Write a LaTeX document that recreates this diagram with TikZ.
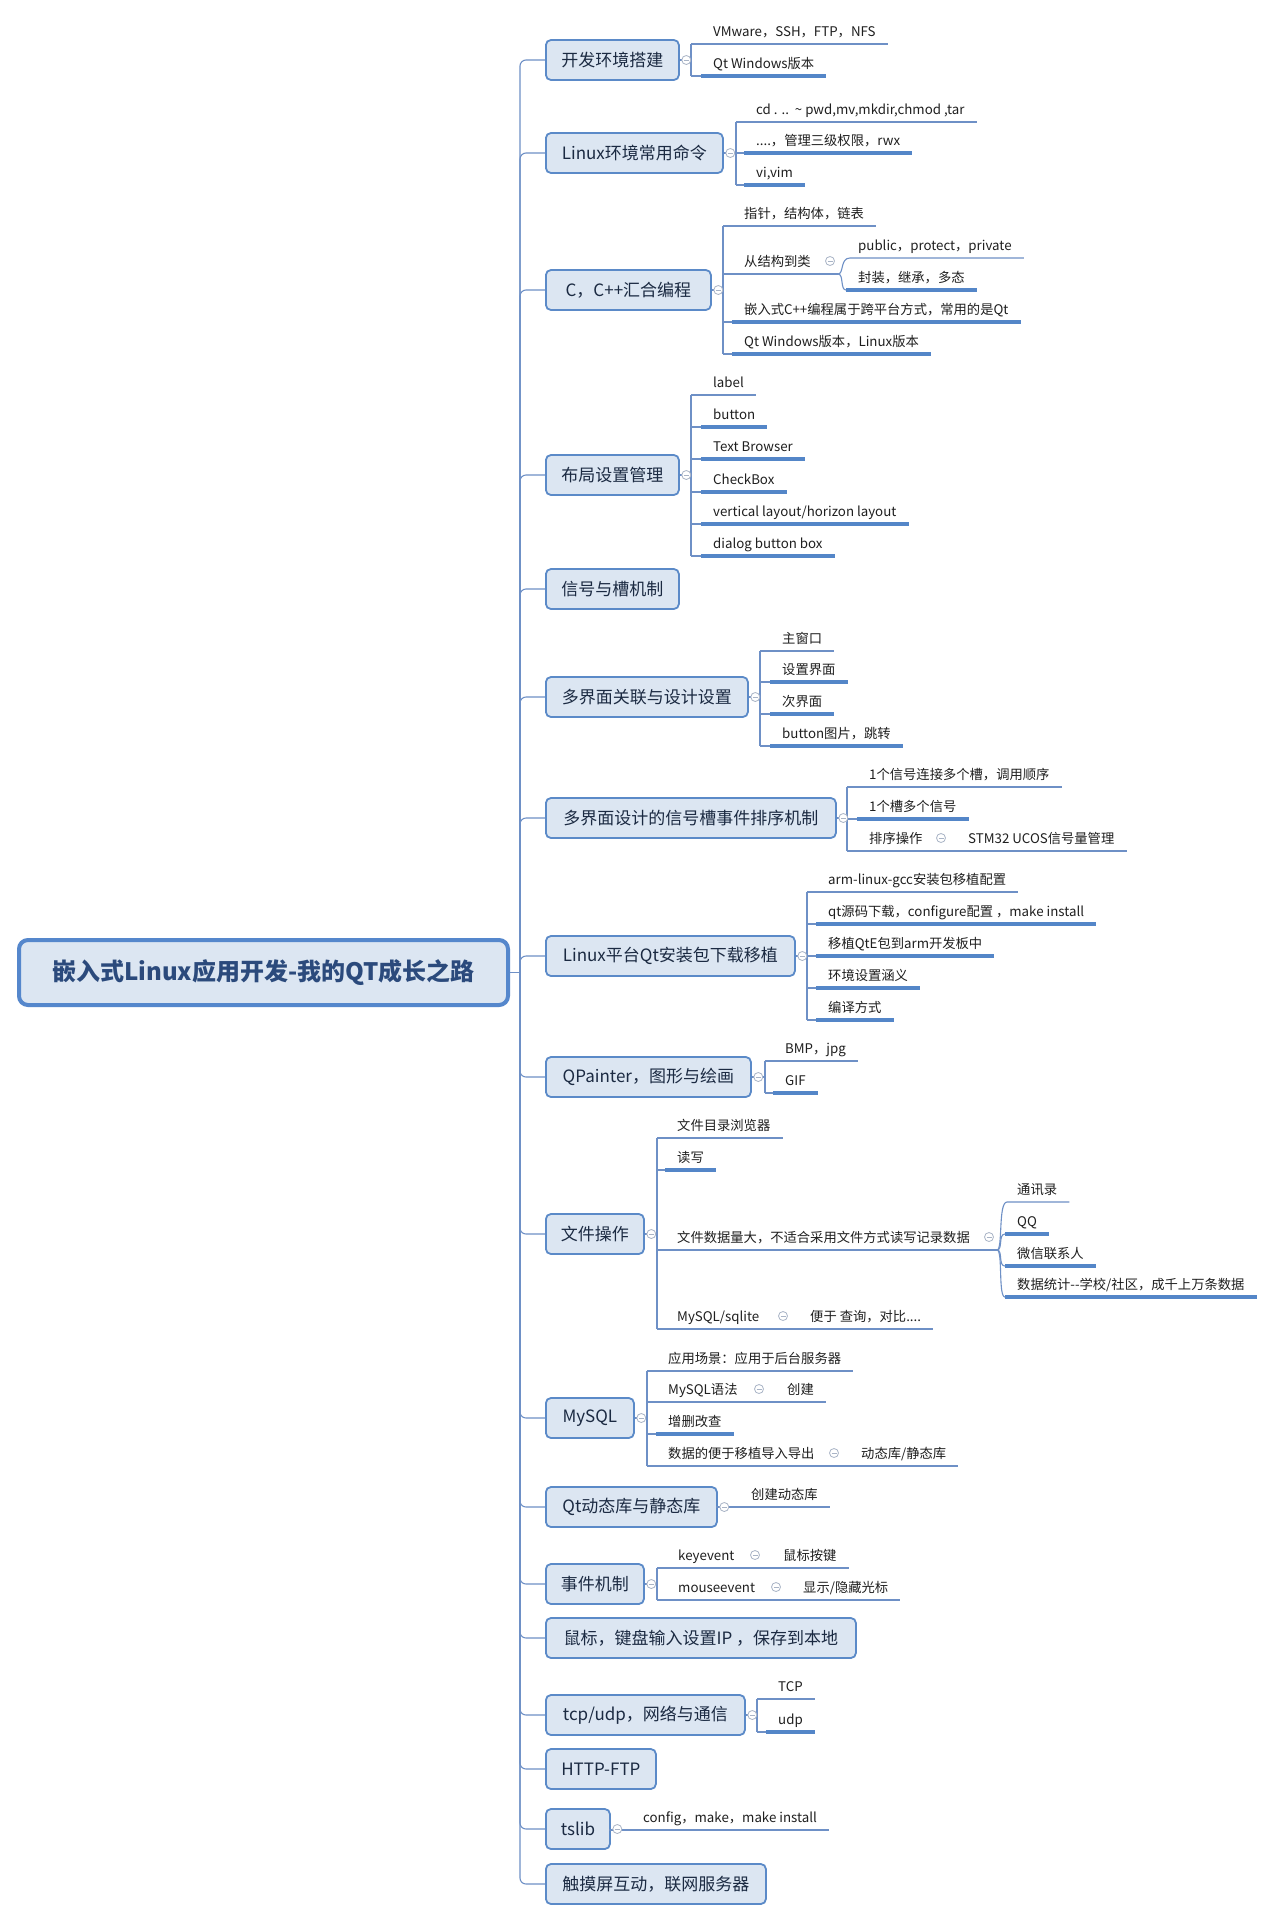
\documentclass[tikz,border=0pt]{standalone}
\usepackage{fontspec}
\setmainfont{Noto Sans CJK SC}
\usetikzlibrary{calc}
\definecolor{nodefill}{HTML}{DCE6F2}
\definecolor{nodeedge}{HTML}{5B8AC8}
\definecolor{connc}{HTML}{6E90C6}
\definecolor{ulc}{HTML}{5486C8}
\definecolor{topictext}{HTML}{1B2A42}
\definecolor{rootedge}{HTML}{5587CC}
\definecolor{roottext}{HTML}{2B4A7C}
\definecolor{togc}{HTML}{A9B4C6}
\newcommand\kidfont{\fontsize{13.3}{15}\selectfont}
\newcommand\topfont{\fontsize{17}{20}\selectfont}
\tikzset{
 topicbox/.style={draw=nodeedge, line width=1.8pt, fill=nodefill, rounded corners=5pt, minimum height=40pt, inner xsep=8pt, inner ysep=0pt, font=\topfont, text=topictext, anchor=west},
 rootbox/.style={draw=rootedge, line width=4pt, fill=nodefill, rounded corners=9pt, minimum height=65pt, minimum width=489pt, font=\fontsize{24}{28}\selectfont\bfseries, text=roottext},
 kid/.style={anchor=base west, inner sep=0pt, font=\kidfont, text=black!88},
 conn/.style={draw=connc, line width=1.1pt},
 uline/.style={draw=ulc, line width=3.4pt},
 tog/.style={circle, draw=togc, line width=0.8pt, fill=white, minimum size=9pt, inner sep=0pt,
   path picture={\draw[togc, line width=0.8pt] ([xshift=-2.5pt]path picture bounding box.center) -- ([xshift=2.5pt]path picture bounding box.center);}},
}
% thin child: name, bracket x, text x, line y, text
\newcommand\kidthin[5]{\node[kid] (#1) at (#3,#4-8) {#5};
  \draw[conn] (#2,#4) -- ([shift={(12pt,-8pt)}]#1.base east);}
% underlined child
\newcommand\kidthick[5]{\node[kid] (#1) at (#3,#4-8) {#5};
  \draw[conn] (#2,#4) -- ([shift={(-12pt,-8pt)}]#1.base west);
  \draw[uline] ([shift={(-12pt,-8pt)}]#1.base west) -- ([shift={(12pt,-8pt)}]#1.base east);}
% child with one grandchild on the same line
\newcommand\kidpair[8]{\node[kid] (#1) at (#3,#4-8) {#5};
  \node[kid] (#1b) at (#7,#4-8) {#8};
  \draw[conn] (#2,#4) -- ([shift={(12pt,-8pt)}]#1b.base east);
  \node[tog] (#1t) at (#6,#4-13) {};}
\begin{document}
\begin{tikzpicture}[x=1pt,y=-1pt]
\useasboundingbox (0,0) rectangle (1277,1922);
\fill[white] (0,0) rectangle (1277,1922);

% root and level-1 topics
\node[rootbox] (root) at (263.5,972.5) {嵌入式Linux应用开发-我的QT成长之路};
\coordinate (J) at (520,972.5);

\node[topicbox, minimum width=133pt] (n1) at (545,60) {开发环境搭建};
\node[topicbox, minimum width=177pt] (n2) at (545,153) {Linux环境常用命令};
\node[topicbox, minimum width=165pt] (n3) at (545,290) {C，C++汇合编程};
\node[topicbox, minimum width=133pt] (n4) at (545,475) {布局设置管理};
\node[topicbox, minimum width=133pt] (n5) at (545,589) {信号与槽机制};
\node[topicbox, minimum width=202pt] (n6) at (545,697) {多界面关联与设计设置};
\node[topicbox, minimum width=290pt] (n7) at (545,818) {多界面设计的信号槽事件排序机制};
\node[topicbox, minimum width=249pt] (n8) at (545,956) {Linux平台Qt安装包下载移植};
\node[topicbox, minimum width=205pt] (n9) at (545,1077) {QPainter，图形与绘画};
\node[topicbox, minimum width=98pt] (n10) at (545,1234) {文件操作};
\node[topicbox, minimum width=88pt] (n11) at (545,1418) {MySQL};
\node[topicbox, minimum width=171pt] (n12) at (545,1507) {Qt动态库与静态库};
\node[topicbox, minimum width=98pt] (n13) at (545,1584) {事件机制};
\node[topicbox, minimum width=310pt] (n14) at (545,1638) {鼠标，键盘输入设置IP ，保存到本地};
\node[topicbox, minimum width=199pt] (n15) at (545,1715) {tcp/udp，网络与通信};
\node[topicbox, minimum width=110pt] (n16) at (545,1769) {HTTP-FTP};
\node[topicbox, minimum width=64pt] (n17) at (545,1829) {tslib};
\node[topicbox, minimum width=220pt] (n18) at (545,1884) {触摸屏互动，联网服务器};

\draw[conn] (root.east) -- (J);
\foreach \n in {n1,n2,n3,n4,n5,n6,n7,n8,n9,n10,n11,n12,n13,n14,n15,n16,n17,n18}
  \draw[conn, rounded corners=6pt] (J) |- (\n.west);

% group 1
\coordinate (b1) at (691,60);
\draw[conn] (n1.east) -- (b1);
\draw[conn] (691,44) -- (691,76);
\kidthin{k11}{691}{713}{44}{VMware，SSH，FTP，NFS}
\kidthick{k12}{691}{713}{76}{Qt Windows版本}
\node[tog] (t1) at ([xshift=6.5pt]n1.east) {};

% group 2
\coordinate (b2) at (736,153);
\draw[conn] (n2.east) -- (b2);
\draw[conn] (736,122) -- (736,185);
\kidthin{k21}{736}{756}{122}{cd . ..\ \ \textasciitilde\ pwd,mv,mkdir,chmod ,tar}
\kidthick{k22}{736}{756}{153}{....，管理三级权限，rwx}
\kidthick{k23}{736}{756}{185}{vi,vim}
\node[tog] (t2) at ([xshift=6.5pt]n2.east) {};

% group 3
\coordinate (b3) at (723,290);
\draw[conn] (n3.east) -- (b3);
\draw[conn] (723,226) -- (723,354);
\kidthin{k31}{723}{744}{226}{指针，结构体，链表}
\node[kid] (k32) at (744,266) {从结构到类};
\coordinate (j3) at (838,274);
\draw[conn] (723,274) -- (j3);
\node[tog] (k32t) at (830,261) {};
\node[kid] (k321) at (858,250) {public，protect，private};
\draw[conn] (j3) .. controls (844,274) and (840,258) .. (850,258) -- ([shift={(12pt,-8pt)}]k321.base east);
\node[kid] (k322) at (858,282) {封装，继承，多态};
\draw[conn] (j3) .. controls (844,274) and (840,290) .. ([shift={(-12pt,-8pt)}]k322.base west);
\draw[uline] ([shift={(-12pt,-8pt)}]k322.base west) -- ([shift={(12pt,-8pt)}]k322.base east);
\kidthick{k33}{723}{744}{322}{嵌入式C++编程属于跨平台方式，常用的是Qt}
\kidthick{k34}{723}{744}{354}{Qt Windows版本，Linux版本}
\node[tog] (t3) at ([xshift=6.5pt]n3.east) {};

% group 4
\coordinate (b4) at (691,475);
\draw[conn] (n4.east) -- (b4);
\draw[conn] (691,395) -- (691,556);
\kidthin{k41}{691}{713}{395}{label}
\kidthick{k42}{691}{713}{427}{button}
\kidthick{k43}{691}{713}{459}{Text Browser}
\kidthick{k44}{691}{713}{492}{CheckBox}
\kidthick{k45}{691}{713}{524}{vertical layout/horizon layout}
\kidthick{k46}{691}{713}{556}{dialog button box}
\node[tog] (t4) at ([xshift=6.5pt]n4.east) {};

% group 6
\coordinate (b6) at (760,697);
\draw[conn] (n6.east) -- (b6);
\draw[conn] (760,651) -- (760,746);
\kidthin{k61}{760}{782}{651}{主窗口}
\kidthick{k62}{760}{782}{682}{设置界面}
\kidthick{k63}{760}{782}{714}{次界面}
\kidthick{k64}{760}{782}{746}{button图片，跳转}
\node[tog] (t6) at ([xshift=6.5pt]n6.east) {};

% group 7
\coordinate (b7) at (847,818);
\draw[conn] (n7.east) -- (b7);
\draw[conn] (847,787) -- (847,851);
\kidthin{k71}{847}{869}{787}{1个信号连接多个槽，调用顺序}
\kidthick{k72}{847}{869}{819}{1个槽多个信号}
\kidpair{k73}{847}{869}{851}{排序操作}{941}{968}{STM32 UCOS信号量管理}
\node[tog] (t7) at ([xshift=6.5pt]n7.east) {};

% group 8
\coordinate (b8) at (807,956);
\draw[conn] (n8.east) -- (b8);
\draw[conn] (807,892) -- (807,1020);
\kidthin{k81}{807}{828}{892}{arm-linux-gcc安装包移植配置}
\kidthick{k82}{807}{828}{924}{qt源码下载，configure配置 ，make install}
\kidthick{k83}{807}{828}{956}{移植QtE包到arm开发板中}
\kidthick{k84}{807}{828}{988}{环境设置涵义}
\kidthick{k85}{807}{828}{1020}{编译方式}
\node[tog] (t8) at ([xshift=6.5pt]n8.east) {};

% group 9
\coordinate (b9) at (765,1077);
\draw[conn] (n9.east) -- (b9);
\draw[conn] (765,1061) -- (765,1093);
\kidthin{k91}{765}{785}{1061}{BMP，jpg}
\kidthick{k92}{765}{785}{1093}{GIF}
\node[tog] (t9) at ([xshift=6.5pt]n9.east) {};

% group 10
\coordinate (b10) at (657,1234);
\draw[conn] (n10.east) -- (b10);
\draw[conn] (657,1138) -- (657,1329);
\kidthin{k101}{657}{677}{1138}{文件目录浏览器}
\kidthick{k102}{657}{677}{1170}{读写}
\node[kid] (k103) at (677,1242) {文件数据量大，不适合采用文件方式读写记录数据};
\coordinate (j10) at (997,1250);
\draw[conn] (657,1250) -- (j10);
\node[tog] (k103t) at (989,1237) {};
\node[kid] (k1031) at (1017,1194) {通讯录};
\draw[conn] (j10) .. controls (1003,1250) and (998,1202) .. (1007,1202) -- ([shift={(12pt,-8pt)}]k1031.base east);
\node[kid] (k1032) at (1017,1226) {QQ};
\node[kid] (k1033) at (1017,1258) {微信联系人};
\node[kid] (k1034) at (1017,1289) {数据统计-{}-学校/社区，成千上万条数据};
\draw[conn] (j10) .. controls (1003,1250) and (998,1234) .. (1005,1234);
\draw[conn] (j10) .. controls (1003,1250) and (998,1266) .. (1005,1266);
\draw[conn] (j10) .. controls (1003,1250) and (998,1297) .. (1005,1297);
\foreach \k in {k1032,k1033,k1034}
  \draw[uline] ([shift={(-12pt,-8pt)}]\k.base west) -- ([shift={(12pt,-8pt)}]\k.base east);
\kidpair{k104}{657}{677}{1329}{MySQL/sqlite}{783}{810}{便于 查询，对比....}
\node[tog] (t10) at ([xshift=6.5pt]n10.east) {};

% group 11
\coordinate (b11) at (647,1418);
\draw[conn] (n11.east) -- (b11);
\draw[conn] (647,1371) -- (647,1466);
\kidthin{k111}{647}{668}{1371}{应用场景：应用于后台服务器}
\kidpair{k112}{647}{668}{1402}{MySQL语法}{759}{787}{创建}
\kidthick{k113}{647}{668}{1434}{增删改查}
\kidpair{k114}{647}{668}{1466}{数据的便于移植导入导出}{834}{861}{动态库/静态库}
\node[tog] (t11) at ([xshift=6.5pt]n11.east) {};

% group 12
\kidthin{k121}{716}{751}{1507}{创建动态库}
\node[tog] (t12) at ([xshift=6.5pt]n12.east) {};

% group 13
\coordinate (b13) at (657,1584);
\draw[conn] (n13.east) -- (b13);
\draw[conn] (657,1568) -- (657,1600);
\kidpair{k131}{657}{678}{1568}{keyevent}{755}{783}{鼠标按键}
\kidpair{k132}{657}{678}{1600}{mouseevent}{776}{803}{显示/隐藏光标}
\node[tog] (t13) at ([xshift=6.5pt]n13.east) {};

% group 15
\coordinate (b15) at (757,1715);
\draw[conn] (n15.east) -- (b15);
\draw[conn] (757,1699) -- (757,1732);
\kidthin{k151}{757}{778}{1699}{TCP}
\kidthick{k152}{757}{778}{1732}{udp}
\node[tog] (t15) at ([xshift=6.5pt]n15.east) {};

% group 17
\kidthin{k171}{609}{643}{1830}{config，make，make install}
\node[tog] (t17) at ([xshift=6.5pt]n17.east) {};
\end{tikzpicture}
\end{document}
